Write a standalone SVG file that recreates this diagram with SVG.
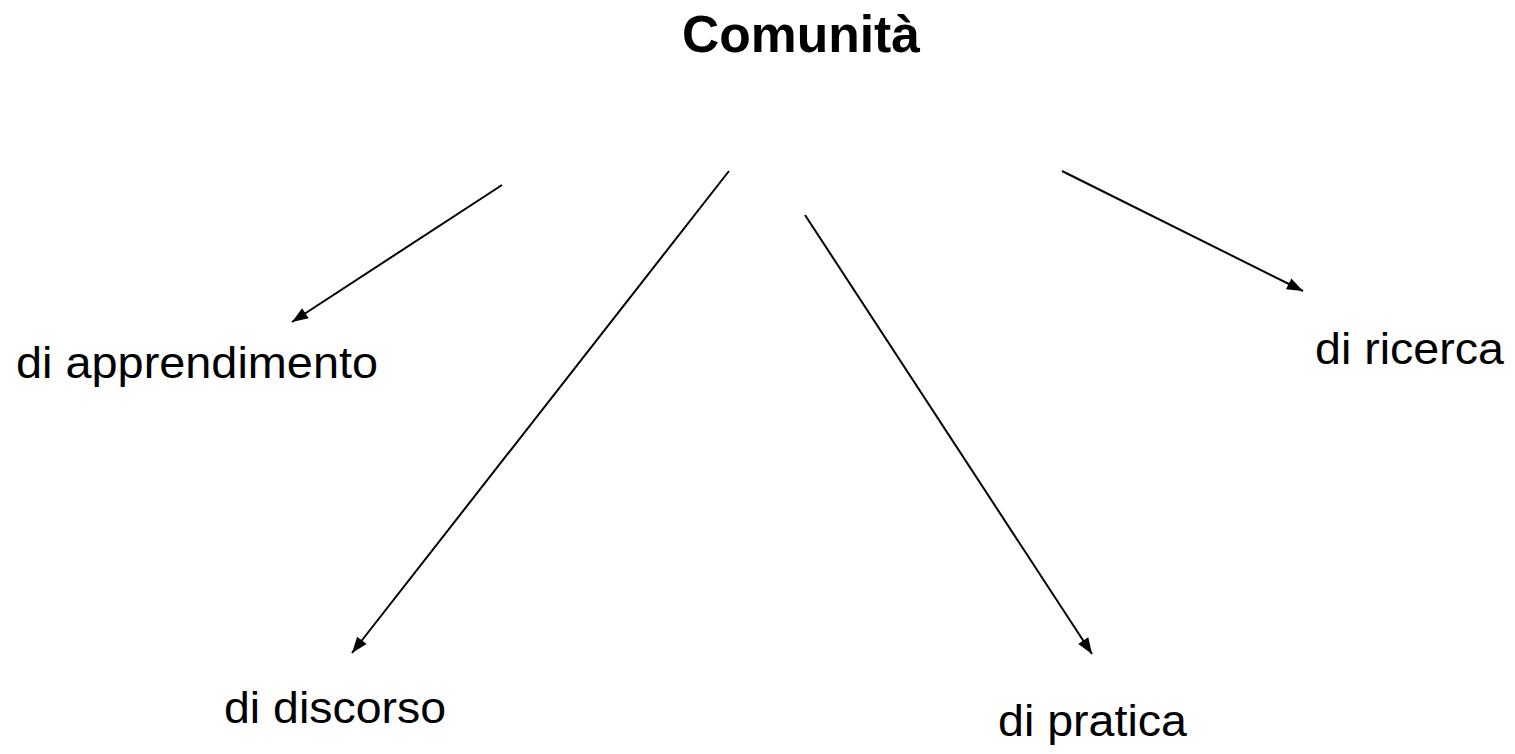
<svg xmlns="http://www.w3.org/2000/svg" width="1515" height="754" viewBox="0 0 1515 754">
<style>
.lbl{font-family:"Liberation Sans",Arial,sans-serif;font-size:44px;fill:#000}
.title{font-family:"Liberation Sans",Arial,sans-serif;font-size:52px;font-weight:bold;fill:#000}
.conn{stroke:#000;stroke-width:2;fill:none;marker-end:url(#arr)}
</style>
<defs>
<marker id="arr" markerUnits="userSpaceOnUse" markerWidth="20" markerHeight="16" viewBox="0 0 20 16" refX="18" refY="8" orient="auto">
<path d="M2,2 L18,8 L2,14 Z" fill="#000"/>
</marker>
</defs>
<rect width="1515" height="754" fill="#fff"/>
<g id="connectors">
<line class="conn" x1="502" y1="185" x2="292" y2="322"/>
<line class="conn" x1="729" y1="171" x2="352" y2="653"/>
<line class="conn" x1="805" y1="215" x2="1092" y2="654"/>
<line class="conn" x1="1062" y1="171" x2="1303" y2="291"/>
</g>
<g id="node-comunita"><text class="title" x="682" y="52" textLength="238" lengthAdjust="spacingAndGlyphs">Comunità</text></g>
<g id="node-apprendimento"><text class="lbl" x="16" y="378" textLength="362" lengthAdjust="spacingAndGlyphs">di apprendimento</text></g>
<g id="node-discorso"><text class="lbl" x="224" y="723" textLength="222" lengthAdjust="spacingAndGlyphs">di discorso</text></g>
<g id="node-pratica"><text class="lbl" x="998" y="736" textLength="189" lengthAdjust="spacingAndGlyphs">di pratica</text></g>
<g id="node-ricerca"><text class="lbl" x="1315" y="364" textLength="189" lengthAdjust="spacingAndGlyphs">di ricerca</text></g>
</svg>
